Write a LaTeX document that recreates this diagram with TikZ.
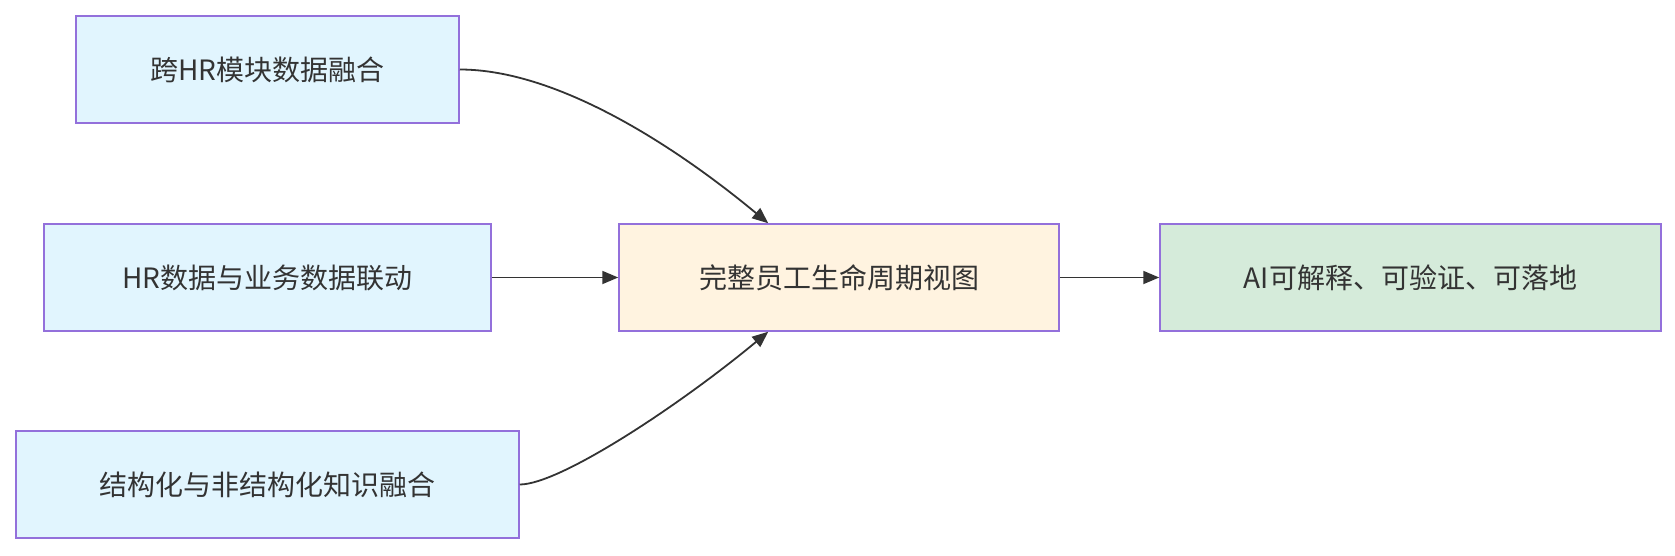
\documentclass[tikz,border=0pt]{standalone}
\usepackage{fontspec}
\setmainfont{Noto Sans CJK SC}
\usetikzlibrary{arrows.meta}
\definecolor{boxline}{HTML}{9370DB}
\definecolor{srcfill}{HTML}{E1F5FE}
\definecolor{midfill}{HTML}{FFF3E0}
\definecolor{outfill}{HTML}{D5EBDA}
\definecolor{linkcol}{HTML}{333333}

\begin{document}
\begin{tikzpicture}[x=1pt, y=-1pt,
  box/.style={draw=boxline, line width=1.5pt, text=linkcol, font=\fontsize{28}{34}\selectfont, inner sep=0pt},
  link/.style={draw=linkcol, line width=1.8pt, -{Triangle[length=16pt,width=13pt]}}]
\useasboundingbox (0,0) rectangle (1675,556);

% Source nodes
\node[box, fill=srcfill, minimum width=383pt, minimum height=107pt] (hrmod) at (267.5,69.5) {跨HR模块数据融合};
\node[box, fill=srcfill, minimum width=447pt, minimum height=107pt] (hrbiz) at (267.5,277.5) {HR数据与业务数据联动};
\node[box, fill=srcfill, minimum width=503pt, minimum height=107pt] (know) at (267.5,484.5) {结构化与非结构化知识融合};

% Middle and result nodes
\node[box, fill=midfill, minimum width=440pt, minimum height=107pt] (life) at (839,277.5) {完整员工生命周期视图};
\node[box, fill=outfill, minimum width=501pt, minimum height=107pt] (ai) at (1410.5,277.5) {AI可解释、可验证、可落地};

% Connections
\draw[link] (hrmod.east) .. controls (560,69.5) and (680,150) .. ([xshift=150pt]life.north west);
\draw[link] (hrbiz) -- (life);
\draw[link] (know.east) .. controls (560,484.5) and (680,405) .. ([xshift=150pt]life.south west);
\draw[link] (life) -- (ai);

\end{tikzpicture}
\end{document}
